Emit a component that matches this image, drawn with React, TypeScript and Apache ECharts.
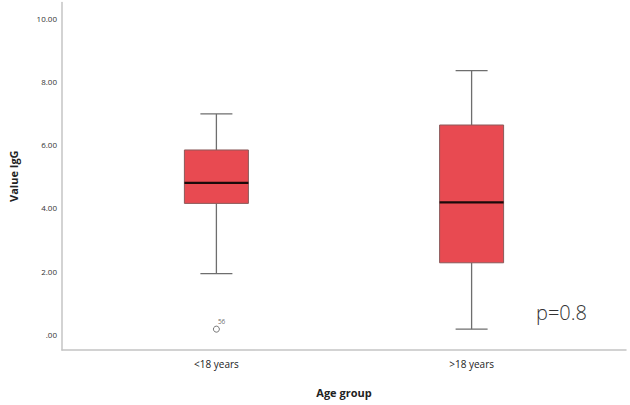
import React, { useEffect, useRef } from "react";
import * as echarts from "echarts";

const categories = ["<18 years", ">18 years"];
// [min, Q1, median, Q3, max]
const boxValues = [
  [1.92, 4.14, 4.79, 5.83, 6.97],
  [0.16, 2.26, 4.17, 6.62, 8.34],
];
const outliers = [[0, 0.16, "56"]];
const yTicks = [0, 2, 4, 6, 8, 10];
const pText = "p=0.8";

export default function App() {
  const ref = useRef<HTMLDivElement>(null);
  useEffect(() => {
    document.body.style.margin = "0";
    const chart = echarts.init(ref.current!, null, { renderer: "svg" });
    const font = "'Open Sans', 'Liberation Sans', sans-serif";
    chart.setOption({
      animation: false,
      backgroundColor: "#ffffff",
      grid: { left: 56, right: 4, top: 2.4, bottom: 55 },
      xAxis: {
        type: "value",
        min: -0.605,
        max: 1.605,
        name: "Age group",
        nameLocation: "middle",
        nameGap: 37,
        nameTextStyle: { fontFamily: font, fontWeight: "bold", fontSize: 11, color: "#222" },
        splitLine: { show: false },
        axisTick: { show: false },
        axisLine: { show: true, onZero: false, lineStyle: { color: "#c4c4c4", width: 1.5 } },
        axisLabel: {
          customValues: [0, 1],
          formatter: (v: number) => categories[Math.round(v)] ?? "",
          fontFamily: font,
          fontSize: 10,
          color: "#222",
          margin: 9,
        },
      },
      yAxis: {
        type: "value",
        min: -0.5,
        max: 10.5,
        name: "Value IgG",
        nameLocation: "middle",
        nameGap: 43,
        nameTextStyle: { fontFamily: font, fontWeight: "bold", fontSize: 11, color: "#222" },
        splitLine: { show: false },
        axisTick: { show: false },
        axisLine: { show: true, onZero: false, lineStyle: { color: "#c4c4c4", width: 1.5 } },
        axisLabel: {
          customValues: yTicks,
          formatter: (v: number) => (v === 0 ? ".00" : v.toFixed(2)),
          fontFamily: font,
          fontSize: 8,
          color: "#333",
          margin: 5,
        },
      },
      series: [
        {
          type: "custom",
          data: boxValues.map((b, i) => [i, ...b]),
          renderItem: (params: any, api: any) => {
            const x = api.value(0);
            const pMin = api.coord([x, api.value(1)]);
            const pQ1 = api.coord([x, api.value(2)]);
            const pMed = api.coord([x, api.value(3)]);
            const pQ3 = api.coord([x, api.value(4)]);
            const pMax = api.coord([x, api.value(5)]);
            const cx = pMed[0];
            const hw = 32;
            const cw = 16;
            const grey = { stroke: "#6e6e6e", lineWidth: 1.3 };
            return {
              type: "group",
              children: [
                { type: "line", shape: { x1: cx, y1: pMax[1], x2: cx, y2: pQ3[1] }, style: grey },
                { type: "line", shape: { x1: cx, y1: pQ1[1], x2: cx, y2: pMin[1] }, style: grey },
                { type: "line", shape: { x1: cx - cw, y1: pMax[1], x2: cx + cw, y2: pMax[1] }, style: grey },
                { type: "line", shape: { x1: cx - cw, y1: pMin[1], x2: cx + cw, y2: pMin[1] }, style: grey },
                {
                  type: "rect",
                  shape: { x: cx - hw, y: pQ3[1], width: hw * 2, height: pQ1[1] - pQ3[1] },
                  style: { fill: "#e84a51", stroke: "#8a5a5a", lineWidth: 1 },
                },
                {
                  type: "line",
                  shape: { x1: cx - hw, y1: pMed[1], x2: cx + hw, y2: pMed[1] },
                  style: { stroke: "#1a0a0a", lineWidth: 2.2 },
                },
              ],
            };
          },
        },
        {
          type: "scatter",
          data: outliers,
          symbol: "circle",
          symbolSize: 6,
          itemStyle: { color: "#ffffff", borderColor: "#555", borderWidth: 1 },
          label: {
            show: true,
            formatter: (p: any) => p.data[2],
            position: [5, -8],
            fontFamily: font,
            fontSize: 6.5,
            color: "#444",
          },
        },
      ],
      graphic: [
        {
          type: "text",
          left: 536,
          top: 302,
          style: { text: pText, font: `300 20px ${font}`, fill: "#333" },
        },
      ],
    });
    return () => chart.dispose();
  }, []);
  return <div ref={ref} style={{ width: 630, height: 405 }} />;
}
